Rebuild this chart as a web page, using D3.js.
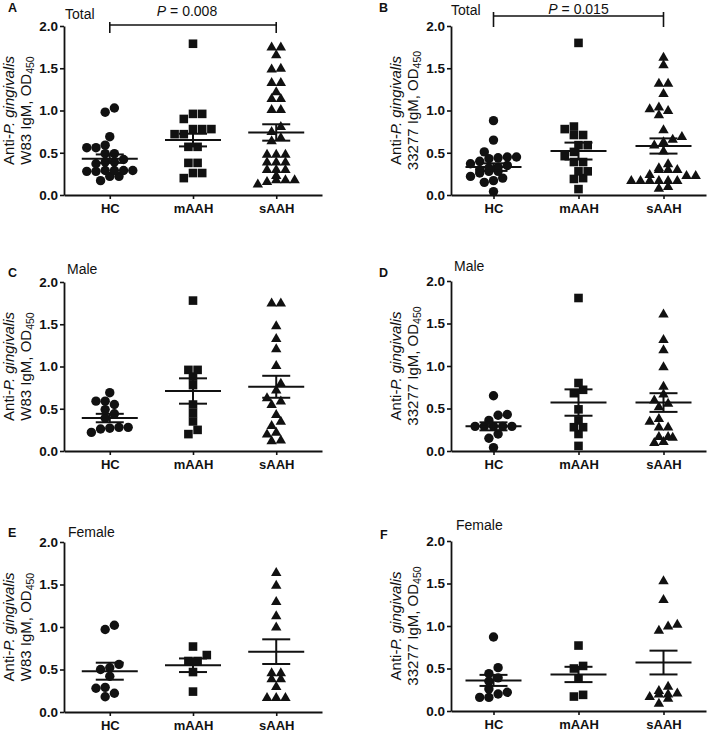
<!DOCTYPE html>
<html><head><meta charset="utf-8">
<script src="https://cdn.jsdelivr.net/npm/d3@7"></script>
<style>
body{margin:0;background:#fff}
svg{display:block}
text{font-family:Arial,"Liberation Sans",sans-serif;fill:#111}
</style>
</head><body>
<svg id="chart" width="709" height="733"></svg>
<script>
// ---------- data ----------
const categories = ["HC", "mAAH", "sAAH"];
const yTicks = [0, 0.5, 1.0, 1.5, 2.0];
const panelLetters = ["A", "B", "C", "D", "E", "F"];
const panelTitles = ["Total", "Total", "Male", "Male", "Female", "Female"];
const strainLabels = ["W83", "33277", "W83", "33277", "W83", "33277"];
const pValues = ["0.008", "0.015", null, null, null, null];

// Panel A (Total, W83)
const aHC = [1.03,0.98,0.69,0.59,0.56,0.56,0.49,0.49,0.42,0.39,0.39,0.37,0.29,0.29,0.29,0.28,0.29,0.28,0.22,0.22,0.17];
const aMAAH = [1.79,0.96,0.96,0.90,0.78,0.78,0.78,0.72,0.72,0.57,0.57,0.38,0.38,0.26,0.26,0.20];
const aSAAH = [1.75,1.75,1.66,1.50,1.49,1.33,1.33,1.22,1.14,1.14,1.01,1.01,0.81,0.75,0.68,0.64,0.48,0.48,0.48,0.39,0.39,0.39,0.30,0.30,0.30,0.23,0.18,0.18,0.18,0.16,0.13];
const aMean = [0.43, 0.65, 0.74];
const aSem = [0.05, 0.075, 0.097];

// Panel B (Total, 33277)
const bHC = [0.88,0.65,0.51,0.45,0.45,0.44,0.43,0.40,0.37,0.35,0.33,0.32,0.30,0.28,0.28,0.26,0.22,0.20,0.17,0.15,0.04];
const bMAAH = [1.80,0.81,0.78,0.71,0.71,0.59,0.59,0.51,0.46,0.39,0.39,0.28,0.28,0.20,0.19,0.07];
const bSAAH = [1.63,1.54,1.32,1.32,1.20,1.04,1.02,1.00,0.95,0.77,0.69,0.66,0.63,0.59,0.52,0.37,0.32,0.30,0.30,0.30,0.24,0.23,0.23,0.17,0.17,0.17,0.17,0.17,0.17,0.10,0.08];
const bMean = [0.33, 0.52, 0.58];
const bSem = [0.045, 0.1, 0.09];

// Panel C (Male, W83)
const cHC = [0.69,0.59,0.59,0.55,0.49,0.44,0.39,0.28,0.28,0.27,0.26,0.22];
const cMAAH = [1.78,0.96,0.96,0.88,0.78,0.55,0.45,0.35,0.25,0.20];
const cSAAH = [1.75,1.75,1.48,1.33,1.21,1.01,0.80,0.72,0.63,0.59,0.55,0.43,0.35,0.30,0.22,0.20,0.13,0.12];
const cMean = [0.39, 0.71, 0.76];
const cSem = [0.05, 0.15, 0.13];

// Panel D (Male, 33277)
const dHC = [0.65,0.43,0.42,0.36,0.29,0.29,0.29,0.29,0.29,0.20,0.15,0.04];
const dMAAH = [1.80,0.80,0.72,0.68,0.49,0.36,0.28,0.28,0.20,0.06];
const dSAAH = [1.61,1.31,1.19,0.99,0.76,0.67,0.60,0.56,0.52,0.38,0.35,0.28,0.28,0.17,0.17,0.16,0.11,0.10];
const dMean = [0.29, 0.57, 0.57];
const dSem = [0.047, 0.155, 0.11];

// Panel E (Female, W83)
const eHC = [1.02,0.97,0.56,0.52,0.50,0.42,0.29,0.28,0.22,0.18];
const eMAAH = [0.77,0.67,0.60,0.60,0.47,0.24];
const eSAAH = [1.64,1.49,1.30,1.13,1.00,0.46,0.46,0.39,0.39,0.30,0.17,0.17,0.17];
const eMean = [0.48, 0.55, 0.71];
const eSem = [0.10, 0.08, 0.145];

// Panel F (Female, 33277)
const fHC = [0.87,0.51,0.44,0.39,0.35,0.26,0.22,0.20,0.16,0.16];
const fMAAH = [0.77,0.53,0.50,0.38,0.19,0.17];
const fSAAH = [1.53,1.31,1.02,1.00,0.95,0.29,0.24,0.21,0.20,0.20,0.17,0.15,0.09];
const fMean = [0.36, 0.43, 0.57];
const fSem = [0.065, 0.09, 0.14];

const panelData = [
  [aHC, aMAAH, aSAAH], [bHC, bMAAH, bSAAH],
  [cHC, cMAAH, cSAAH], [dHC, dMAAH, dSAAH],
  [eHC, eMAAH, eSAAH], [fHC, fMAAH, fSAAH]
];
const panelMeans = [aMean, bMean, cMean, dMean, eMean, fMean];
const panelSems = [aSem, bSem, cSem, dSem, eSem, fSem];

// ---------- layout ----------
const layout = [
  {ax:64,  xEnd:322, pad:0.55, y0:195, y1:26,  letterX:8,   letterY:12,  titleX:65,  titleY:19,  pLineY:25, pTickTop:22, pTickBot:33, pTextY:16, pTextDx:-6},
  {ax:451, xEnd:706, pad:0.5,  y0:195, y1:26,  letterX:379, letterY:12,  titleX:451, titleY:15,  pLineY:16, pTickTop:12, pTickBot:27, pTextY:14, pTextDx:0},
  {ax:64,  xEnd:322, pad:0.55, y0:451, y1:282, letterX:8,   letterY:277, titleX:67,  titleY:274},
  {ax:451, xEnd:706, pad:0.5,  y0:451, y1:281, letterX:379, letterY:277, titleX:454, titleY:271},
  {ax:64,  xEnd:322, pad:0.55, y0:712, y1:542, letterX:8,   letterY:537, titleX:68,  titleY:537},
  {ax:451, xEnd:706, pad:0.5,  y0:711, y1:541, letterX:380, letterY:539, titleX:456, titleY:530}
];

const svg = d3.select("#chart");
const SPACING = 9.2;   // horizontal spacing of points in one row
const ROW_H = 5.2;     // points closer than this (px, vertically) share a row
const MIN_D = 7.6;     // minimum allowed centre distance between rows

// GraphPad-like scatter: bin points into rows, centre each row on the category,
// shifting a row sideways by half steps if it would sit on top of the previous ones
function rowLayout(vals, cx, y) {
  const pts = vals.map(v => ({v, py: y(v)})).sort((a, b) => b.py - a.py);
  const rows = [];
  for (const p of pts) {
    const r = rows[rows.length - 1];
    if (r && Math.abs(p.py - r[0].py) < ROW_H) r.push(p);
    else rows.push([p]);
  }
  const placed = [];
  const shifts = [0, 0.5, -0.5, 1, -1, 1.5, -1.5];
  for (const r of rows) {
    const n = r.length;
    let chosen = 0;
    for (const s of shifts) {
      const ok = r.every((p, j) => {
        const px = cx + (j - (n - 1) / 2 + s) * SPACING;
        return placed.every(q => (q.px - px) ** 2 + (q.py - p.py) ** 2 >= MIN_D * MIN_D);
      });
      if (ok) { chosen = s; break; }
    }
    r.forEach((p, j) => { p.px = cx + (j - (n - 1) / 2 + chosen) * SPACING; placed.push(p); });
  }
  return pts;
}

const triPath = "M0,-5.6L5.2,3.4L-5.2,3.4Z";

panelData.forEach((groups, i) => {
  const L = layout[i];
  const g = svg.append("g");
  const x = d3.scalePoint().domain(categories).range([L.ax, L.xEnd]).padding(L.pad);
  const y = d3.scaleLinear().domain([0, 2]).range([L.y0, L.y1]);

  // y axis
  const yAx = g.append("g").attr("transform", `translate(${L.ax},0)`)
    .call(d3.axisLeft(y).tickValues(yTicks).tickFormat(d3.format(".1f")).tickSize(4).tickSizeOuter(0).tickPadding(2));
  yAx.select(".domain").attr("stroke", "#111").attr("stroke-width", 1.8);
  yAx.selectAll(".tick line").attr("stroke", "#111").attr("stroke-width", 1.6);
  yAx.selectAll(".tick text").attr("font-size", "13.5px").attr("font-weight", "bold")
     .attr("font-family", 'Arial,"Liberation Sans",sans-serif').attr("fill", "#111");

  // x axis
  const xAx = g.append("g").attr("transform", `translate(0,${L.y0})`)
    .call(d3.axisBottom(x).tickSize(4).tickSizeOuter(0).tickPadding(5));
  xAx.select(".domain").attr("stroke", "#111").attr("stroke-width", 1.8);
  xAx.selectAll(".tick line").attr("stroke", "#111").attr("stroke-width", 1.6);
  xAx.selectAll(".tick text").attr("font-size", "13px").attr("font-weight", "bold")
     .attr("font-family", 'Arial,"Liberation Sans",sans-serif').attr("fill", "#111");

  // points
  groups.forEach((vals, ci) => {
    const pts = rowLayout(vals, x(categories[ci]), y);
    const sel = g.append("g").selectAll("path").data(pts).join("path")
      .attr("fill", "#111")
      .attr("transform", d => `translate(${d.px},${d.py})`);
    if (ci === 0) sel.attr("d", d3.symbol(d3.symbolCircle, Math.PI * 4.7 * 4.7));
    else if (ci === 1) sel.attr("d", d3.symbol(d3.symbolSquare, 8.6 * 8.6));
    else sel.attr("d", triPath);

    // mean and SEM
    const cx = x(categories[ci]);
    const m = panelMeans[i][ci], s = panelSems[i][ci];
    const lg = g.append("g").attr("stroke", "#111").attr("stroke-width", 2);
    lg.append("line").attr("x1", cx - 28).attr("x2", cx + 28).attr("y1", y(m)).attr("y2", y(m));
    lg.append("line").attr("x1", cx - 14).attr("x2", cx + 14).attr("y1", y(m + s)).attr("y2", y(m + s));
    lg.append("line").attr("x1", cx - 14).attr("x2", cx + 14).attr("y1", y(m - s)).attr("y2", y(m - s));
    lg.append("line").attr("x1", cx).attr("x2", cx).attr("y1", y(m + s)).attr("y2", y(m - s));
  });

  // y label
  const yMid = (L.y0 + L.y1) / 2;
  const yl = g.append("text").attr("transform", `translate(${L.ax},${yMid}) rotate(-90)`)
    .attr("text-anchor", "middle").attr("font-size", "15px");
  const t1 = yl.append("tspan").attr("x", 0).attr("y", -50);
  t1.append("tspan").text("Anti-");
  t1.append("tspan").attr("font-style", "italic").text("P. gingivalis");
  const t2 = yl.append("tspan").attr("x", 0).attr("y", -33);
  t2.append("tspan").text(strainLabels[i] + " IgM, OD");
  t2.append("tspan").attr("font-size", "10.5px").attr("dy", 3).text("450");

  // panel letter
  g.append("text").attr("x", L.letterX).attr("y", L.letterY).attr("font-size", "12.5px")
    .attr("font-weight", "bold").text(panelLetters[i]);
  // title
  g.append("text").attr("x", L.titleX).attr("y", L.titleY).attr("font-size", "14px").text(panelTitles[i]);

  // p-value bracket
  if (pValues[i]) {
    const x1 = x(categories[0]), x2 = x(categories[2]);
    const bg = g.append("g").attr("stroke", "#111").attr("stroke-width", 1.6);
    bg.append("line").attr("x1", x1).attr("x2", x2).attr("y1", L.pLineY).attr("y2", L.pLineY);
    bg.append("line").attr("x1", x1).attr("x2", x1).attr("y1", L.pTickTop).attr("y2", L.pTickBot);
    bg.append("line").attr("x1", x2).attr("x2", x2).attr("y1", L.pTickTop).attr("y2", L.pTickBot);
    const pt = g.append("text").attr("x", (x1 + x2) / 2 + L.pTextDx).attr("y", L.pTextY)
      .attr("text-anchor", "middle").attr("font-size", "14px");
    pt.append("tspan").attr("font-style", "italic").text("P");
    pt.append("tspan").text(" = " + pValues[i]);
  }
});
</script>
</body></html>
